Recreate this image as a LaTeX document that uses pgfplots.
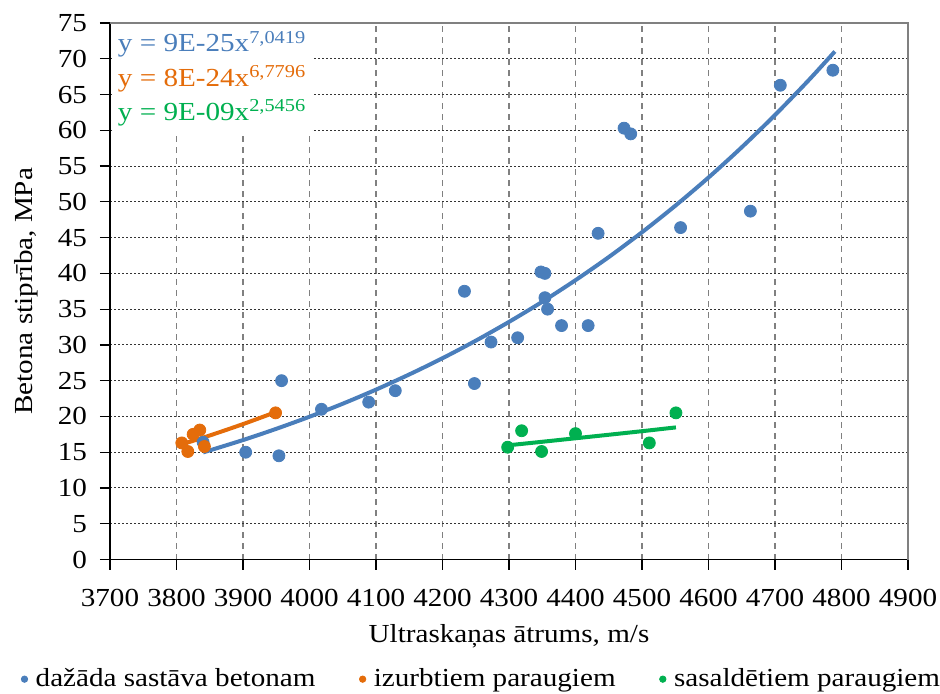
\documentclass[border=0pt]{standalone}
\usepackage{pgfplots}
\pgfplotsset{compat=1.18}
\usepackage{fontspec}
\setmainfont{Liberation Serif}[FakeStretch=1.12]

\definecolor{cblue}{RGB}{74,126,187}
\definecolor{corange}{RGB}{228,108,10}
\definecolor{cgreen}{RGB}{0,176,80}
\definecolor{gridgray}{RGB}{128,128,128}

\newcommand{\fs}{\fontsize{13}{15.6}\selectfont}

\begin{document}
\begin{tikzpicture}
\path[use as bounding box] (-55pt,-66.75pt) rectangle (415pt,279.75pt);
\begin{axis}[
  at={(0,0)}, anchor=south west,
  scale only axis,
  width=399pt, height=268.25pt,
  xmin=3700, xmax=4900, ymin=0, ymax=75,
  xtick={3700,3800,...,4900},
  ytick={0,5,...,75},
  /pgf/number format/assume math mode=true,
  /pgf/number format/set thousands separator={},
  tick label style={font=\fs, black},
  xticklabel style={yshift=-6.5pt},
  yticklabel style={xshift=-3pt},
  tick align=outside,
  major tick length=5pt,
  tick style={black, line width=0.6pt},
  axis x line*=bottom, axis y line*=left,
  axis line style={black, line width=0.8pt, -},
  grid=major,
  x grid style={gridgray, line width=0.75pt, dash pattern=on 3pt off 2.5pt},
  y grid style={black!80, line width=0.5pt, dash pattern=on 1pt off 1pt},
  xlabel={Ultraskaņas ātrums, m/s},
  ylabel={Betona stiprība, MPa},
  label style={font=\fs},
  xlabel style={yshift=-2pt},
  ylabel style={yshift=3pt},
  clip=false,
  legend columns=3,
  legend style={draw=none, fill=none, font=\fs,
    at={(axis description cs:0.467,-0.223)}, anchor=center,
    /tikz/every even column/.append style={column sep=20pt},
    /tikz/every odd column/.append style={column sep=2pt},
    legend cell align=left},
]
% frame on the top and right
\draw[gridgray, line width=1pt] (rel axis cs:0,1) -- (rel axis cs:1,1) -- (rel axis cs:1,0);

% measured points: concrete of various compositions
\addplot[only marks, mark=*, mark size=3pt, color=cblue, forget plot] coordinates {
 (3840,16.4) (3904,15.0) (3954,14.5) (3958,25.0) (4018,21.0) (4089,22.0)
 (4129,23.6) (4233,37.5) (4248,24.6) (4273,30.4) (4313,31.0) (4348,40.2)
 (4354,40.0) (4354,36.6) (4358,35.0) (4379,32.7) (4419,32.7) (4434,45.6)
 (4473,60.3) (4483,59.5) (4558,46.4) (4663,48.7) (4708,66.3) (4787,68.4)
};
% power trend y = 9E-25 x^7.0419
\addplot[cblue, line width=2pt, smooth, forget plot] coordinates {
 (3840,14.97) (3900,16.70) (3950,18.27) (4000,19.96) (4050,21.78)
 (4100,23.75) (4150,25.87) (4200,28.14) (4250,30.59) (4300,33.22)
 (4350,36.03) (4400,39.05) (4450,42.28) (4500,45.75) (4550,49.45)
 (4600,53.40) (4650,57.63) (4700,62.14) (4750,66.94) (4790,71.02)
};

% drilled cores
\addplot[only marks, mark=*, mark size=3pt, color=corange, forget plot] coordinates {
 (3808,16.3) (3817,15.1) (3825,17.5) (3835,18.1) (3842,15.8) (3949,20.5)
};
\addplot[corange, line width=2pt, smooth, forget plot] coordinates {
 (3808,16.10) (3850,17.34) (3900,18.93) (3949,20.60)
};

% frozen specimens
\addplot[only marks, mark=*, mark size=3pt, color=cgreen, forget plot] coordinates {
 (4298,15.7) (4319,18.0) (4349,15.1) (4400,17.6) (4511,16.3) (4551,20.5)
};
\addplot[cgreen, line width=2pt, smooth, forget plot] coordinates {
 (4298,15.96) (4350,16.46) (4400,16.95) (4450,17.44) (4500,17.94) (4551,18.47)
};

% legend entries
\addlegendimage{only marks, mark=*, mark size=1.6pt, color=cblue}
\addlegendentry{dažāda sastāva betonam}
\addlegendimage{only marks, mark=*, mark size=1.6pt, color=corange}
\addlegendentry{izurbtiem paraugiem}
\addlegendimage{only marks, mark=*, mark size=1.6pt, color=cgreen}
\addlegendentry{sasaldētiem paraugiem}

% trend-line equations
\node[fill=white, inner sep=3pt, anchor=north west, align=left, font=\fs]
  at (rel axis cs:0.002,0.997) {%
  \textcolor{cblue}{y = 9E-25x\textsuperscript{7,0419}}\\[1.5pt]
  \textcolor{corange}{y = 8E-24x\textsuperscript{6,7796}}\\[1.5pt]
  \textcolor{cgreen}{y = 9E-09x\textsuperscript{2,5456}}};
\end{axis}
\end{tikzpicture}
\end{document}
